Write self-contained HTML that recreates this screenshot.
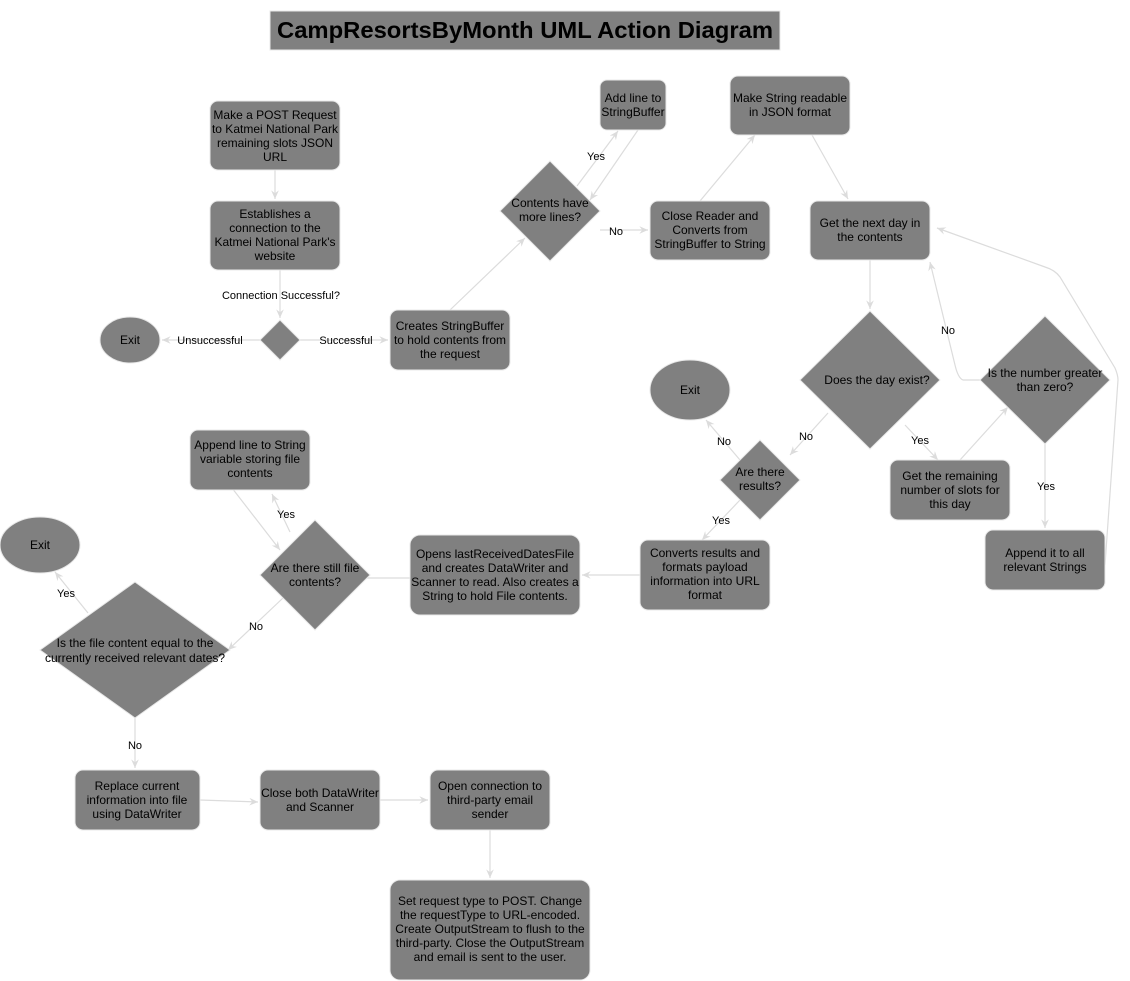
<!DOCTYPE html>
<html><head><meta charset="utf-8"><style>
html,body{margin:0;padding:0;background:#fff}
svg{display:block}
text{font-family:"Liberation Sans",Arial,sans-serif;font-size:12px;fill:#000}
.n{fill:#808080;stroke:#e8e8e8;stroke-width:1}
.e{stroke:#dcdcdc;stroke-width:1.2;fill:none;marker-end:url(#a)}
.l{fill:#000;font-size:11px}
</style></head><body>
<svg width="1130" height="981" viewBox="0 0 1130 981" xmlns="http://www.w3.org/2000/svg">
<defs><marker id="a" viewBox="0 0 10 10" refX="9" refY="5" markerWidth="8" markerHeight="8" orient="auto"><path d="M0,1 L9,5 L0,9 L3,5 z" fill="#dcdcdc"/></marker></defs>
<rect x="270" y="11" width="510" height="39" fill="#808080" stroke="#e8e8e8"/>
<text x="525" y="38" text-anchor="middle" style="font-size:23px;font-weight:bold" textLength="496" lengthAdjust="spacingAndGlyphs">CampResortsByMonth UML Action Diagram</text>

<!-- edges -->
<path class="e" d="M275,170 L275,199"/>
<path class="e" d="M280,270 L280,318"/>
<path class="e" d="M260,340 L162,340"/>
<path class="e" d="M300,340 L388,340"/>
<path class="e" d="M450,310 L525,238"/>
<path class="e" d="M577,186 L618,131"/>
<path class="e" d="M638,130 L590,200"/>
<path class="e" d="M600,230 L648,230"/>
<path class="e" d="M700,201 L755,135"/>
<path class="e" d="M812,135 L848,199"/>
<path class="e" d="M870,260 L870,309"/>
<path class="e" d="M828,413 L790,455"/>
<path class="e" d="M905,425 L938,460"/>
<path class="e" d="M960,460 L1008,407"/>
<path class="e" d="M980,380 L963,380 Q958,378 955,365 L930,262"/>
<path class="e" d="M1045,444 L1045,528"/>
<path class="e" d="M1105,565 L1118,380 Q1118,375 1115,368 L1060,277 Q1055,270 1045,267 L937,228"/>
<path class="e" d="M740,460 L706,420"/>
<path class="e" d="M740,500 L702,540"/>
<path class="e" d="M640,575 L582,575"/>
<path class="e" d="M410,578 L327,578"/>
<path class="e" d="M290,532 L272,494"/>
<path class="e" d="M232,488 L280,550"/>
<path class="e" d="M283,598 L228,650"/>
<path class="e" d="M88,613 L55,572"/>
<path class="e" d="M135,718 L135,768"/>
<path class="e" d="M200,800 L258,802"/>
<path class="e" d="M380,800 L428,800"/>
<path class="e" d="M490,830 L490,878"/>

<!-- edge labels -->
<g class="l" text-anchor="middle">
<text x="281" y="299" style="font-size:11px">Connection Successful?</text>
<text x="210" y="344" style="font-size:11px">Unsuccessful</text>
<text x="346" y="344" style="font-size:11px">Successful</text>
<text x="596" y="160" style="font-size:11px">Yes</text>
<text x="616" y="235" style="font-size:11px">No</text>
<text x="948" y="334" style="font-size:11px">No</text>
<text x="806" y="440" style="font-size:11px">No</text>
<text x="920" y="444" style="font-size:11px">Yes</text>
<text x="1046" y="490" style="font-size:11px">Yes</text>
<text x="724" y="445" style="font-size:11px">No</text>
<text x="721" y="524" style="font-size:11px">Yes</text>
<text x="286" y="518" style="font-size:11px">Yes</text>
<text x="256" y="630" style="font-size:11px">No</text>
<text x="66" y="597" style="font-size:11px">Yes</text>
<text x="135" y="749" style="font-size:11px">No</text>
</g>

<!-- nodes -->
<rect class="n" x="210" y="101" width="130" height="69" rx="8"/>
<rect class="n" x="210" y="201" width="130" height="69" rx="8"/>
<polygon class="n" points="280,320 300,340 280,360 260,340"/>
<ellipse class="n" cx="130" cy="340" rx="30" ry="23"/>
<rect class="n" x="390" y="310" width="120" height="60" rx="8"/>
<polygon class="n" points="550,161 600,211 550,261 500,211"/>
<rect class="n" x="600" y="80" width="66" height="50" rx="7"/>
<rect class="n" x="730" y="76" width="120" height="59" rx="8"/>
<rect class="n" x="650" y="201" width="120" height="59" rx="8"/>
<rect class="n" x="810" y="201" width="120" height="59" rx="8"/>
<polygon class="n" points="870,311 940,380 870,449 800,380"/>
<polygon class="n" points="1045,316 1110,380 1045,444 980,380"/>
<rect class="n" x="890" y="460" width="120" height="60" rx="8"/>
<rect class="n" x="985" y="530" width="120" height="60" rx="8"/>
<ellipse class="n" cx="690" cy="390" rx="40" ry="30"/>
<polygon class="n" points="760,440 800,480 760,520 720,480"/>
<rect class="n" x="640" y="540" width="130" height="70" rx="8"/>
<rect class="n" x="410" y="535" width="170" height="80" rx="10"/>
<polygon class="n" points="315,520 370,575 315,630 260,575"/>
<rect class="n" x="190" y="430" width="120" height="60" rx="8"/>
<ellipse class="n" cx="40" cy="545" rx="40" ry="28"/>
<polygon class="n" points="135,582 230,650 135,718 40,650"/>
<rect class="n" x="75" y="770" width="125" height="60" rx="8"/>
<rect class="n" x="260" y="770" width="120" height="60" rx="8"/>
<rect class="n" x="430" y="770" width="120" height="60" rx="8"/>
<rect class="n" x="390" y="880" width="200" height="100" rx="10"/>

<!-- node text -->
<g text-anchor="middle">
<text x="275" y="119">Make a POST Request</text>
<text x="275" y="133">to Katmei National Park</text>
<text x="275" y="147">remaining slots JSON</text>
<text x="275" y="161">URL</text>
<text x="275" y="218">Establishes a</text>
<text x="275" y="232">connection to the</text>
<text x="275" y="246">Katmei National Park's</text>
<text x="275" y="260">website</text>
<text x="130" y="344">Exit</text>
<text x="450" y="330">Creates StringBuffer</text>
<text x="450" y="344">to hold contents from</text>
<text x="450" y="358">the request</text>
<text x="550" y="207">Contents have</text>
<text x="550" y="221">more lines?</text>
<text x="633" y="102">Add line to</text>
<text x="633" y="116">StringBuffer</text>
<text x="790" y="102">Make String readable</text>
<text x="790" y="116">in JSON format</text>
<text x="710" y="220">Close Reader and</text>
<text x="710" y="234">Converts from</text>
<text x="710" y="248">StringBuffer to String</text>
<text x="870" y="227">Get the next day in</text>
<text x="870" y="241">the contents</text>
<text x="877" y="384">Does the day exist?</text>
<text x="1045" y="377">Is the number greater</text>
<text x="1045" y="391">than zero?</text>
<text x="950" y="480">Get the remaining</text>
<text x="950" y="494">number of slots for</text>
<text x="950" y="508">this day</text>
<text x="1045" y="557">Append it to all</text>
<text x="1045" y="571">relevant Strings</text>
<text x="690" y="394">Exit</text>
<text x="760" y="476">Are there</text>
<text x="760" y="490">results?</text>
<text x="705" y="557">Converts results and</text>
<text x="705" y="571">formats payload</text>
<text x="705" y="585">information into URL</text>
<text x="705" y="599">format</text>
<text x="495" y="558">Opens lastReceivedDatesFile</text>
<text x="495" y="572">and creates DataWriter and</text>
<text x="495" y="586">Scanner to read. Also creates a</text>
<text x="495" y="600">String to hold File contents.</text>
<text x="315" y="572">Are there still file</text>
<text x="315" y="586">contents?</text>
<text x="250" y="449">Append line to String</text>
<text x="250" y="463">variable storing file</text>
<text x="250" y="477">contents</text>
<text x="40" y="549">Exit</text>
<text x="135" y="647">Is the file content equal to the</text>
<text x="135" y="662">currently received relevant dates?</text>
<text x="137" y="790">Replace current</text>
<text x="137" y="804">information into file</text>
<text x="137" y="818">using DataWriter</text>
<text x="320" y="797">Close both DataWriter</text>
<text x="320" y="811">and Scanner</text>
<text x="490" y="790">Open connection to</text>
<text x="490" y="804">third-party email</text>
<text x="490" y="818">sender</text>
<text x="490" y="905">Set request type to POST. Change</text>
<text x="490" y="919">the requestType to URL-encoded.</text>
<text x="490" y="933">Create OutputStream to flush to the</text>
<text x="490" y="947">third-party. Close the OutputStream</text>
<text x="490" y="961">and email is sent to the user.</text>
</g>
</svg>
</body></html>
